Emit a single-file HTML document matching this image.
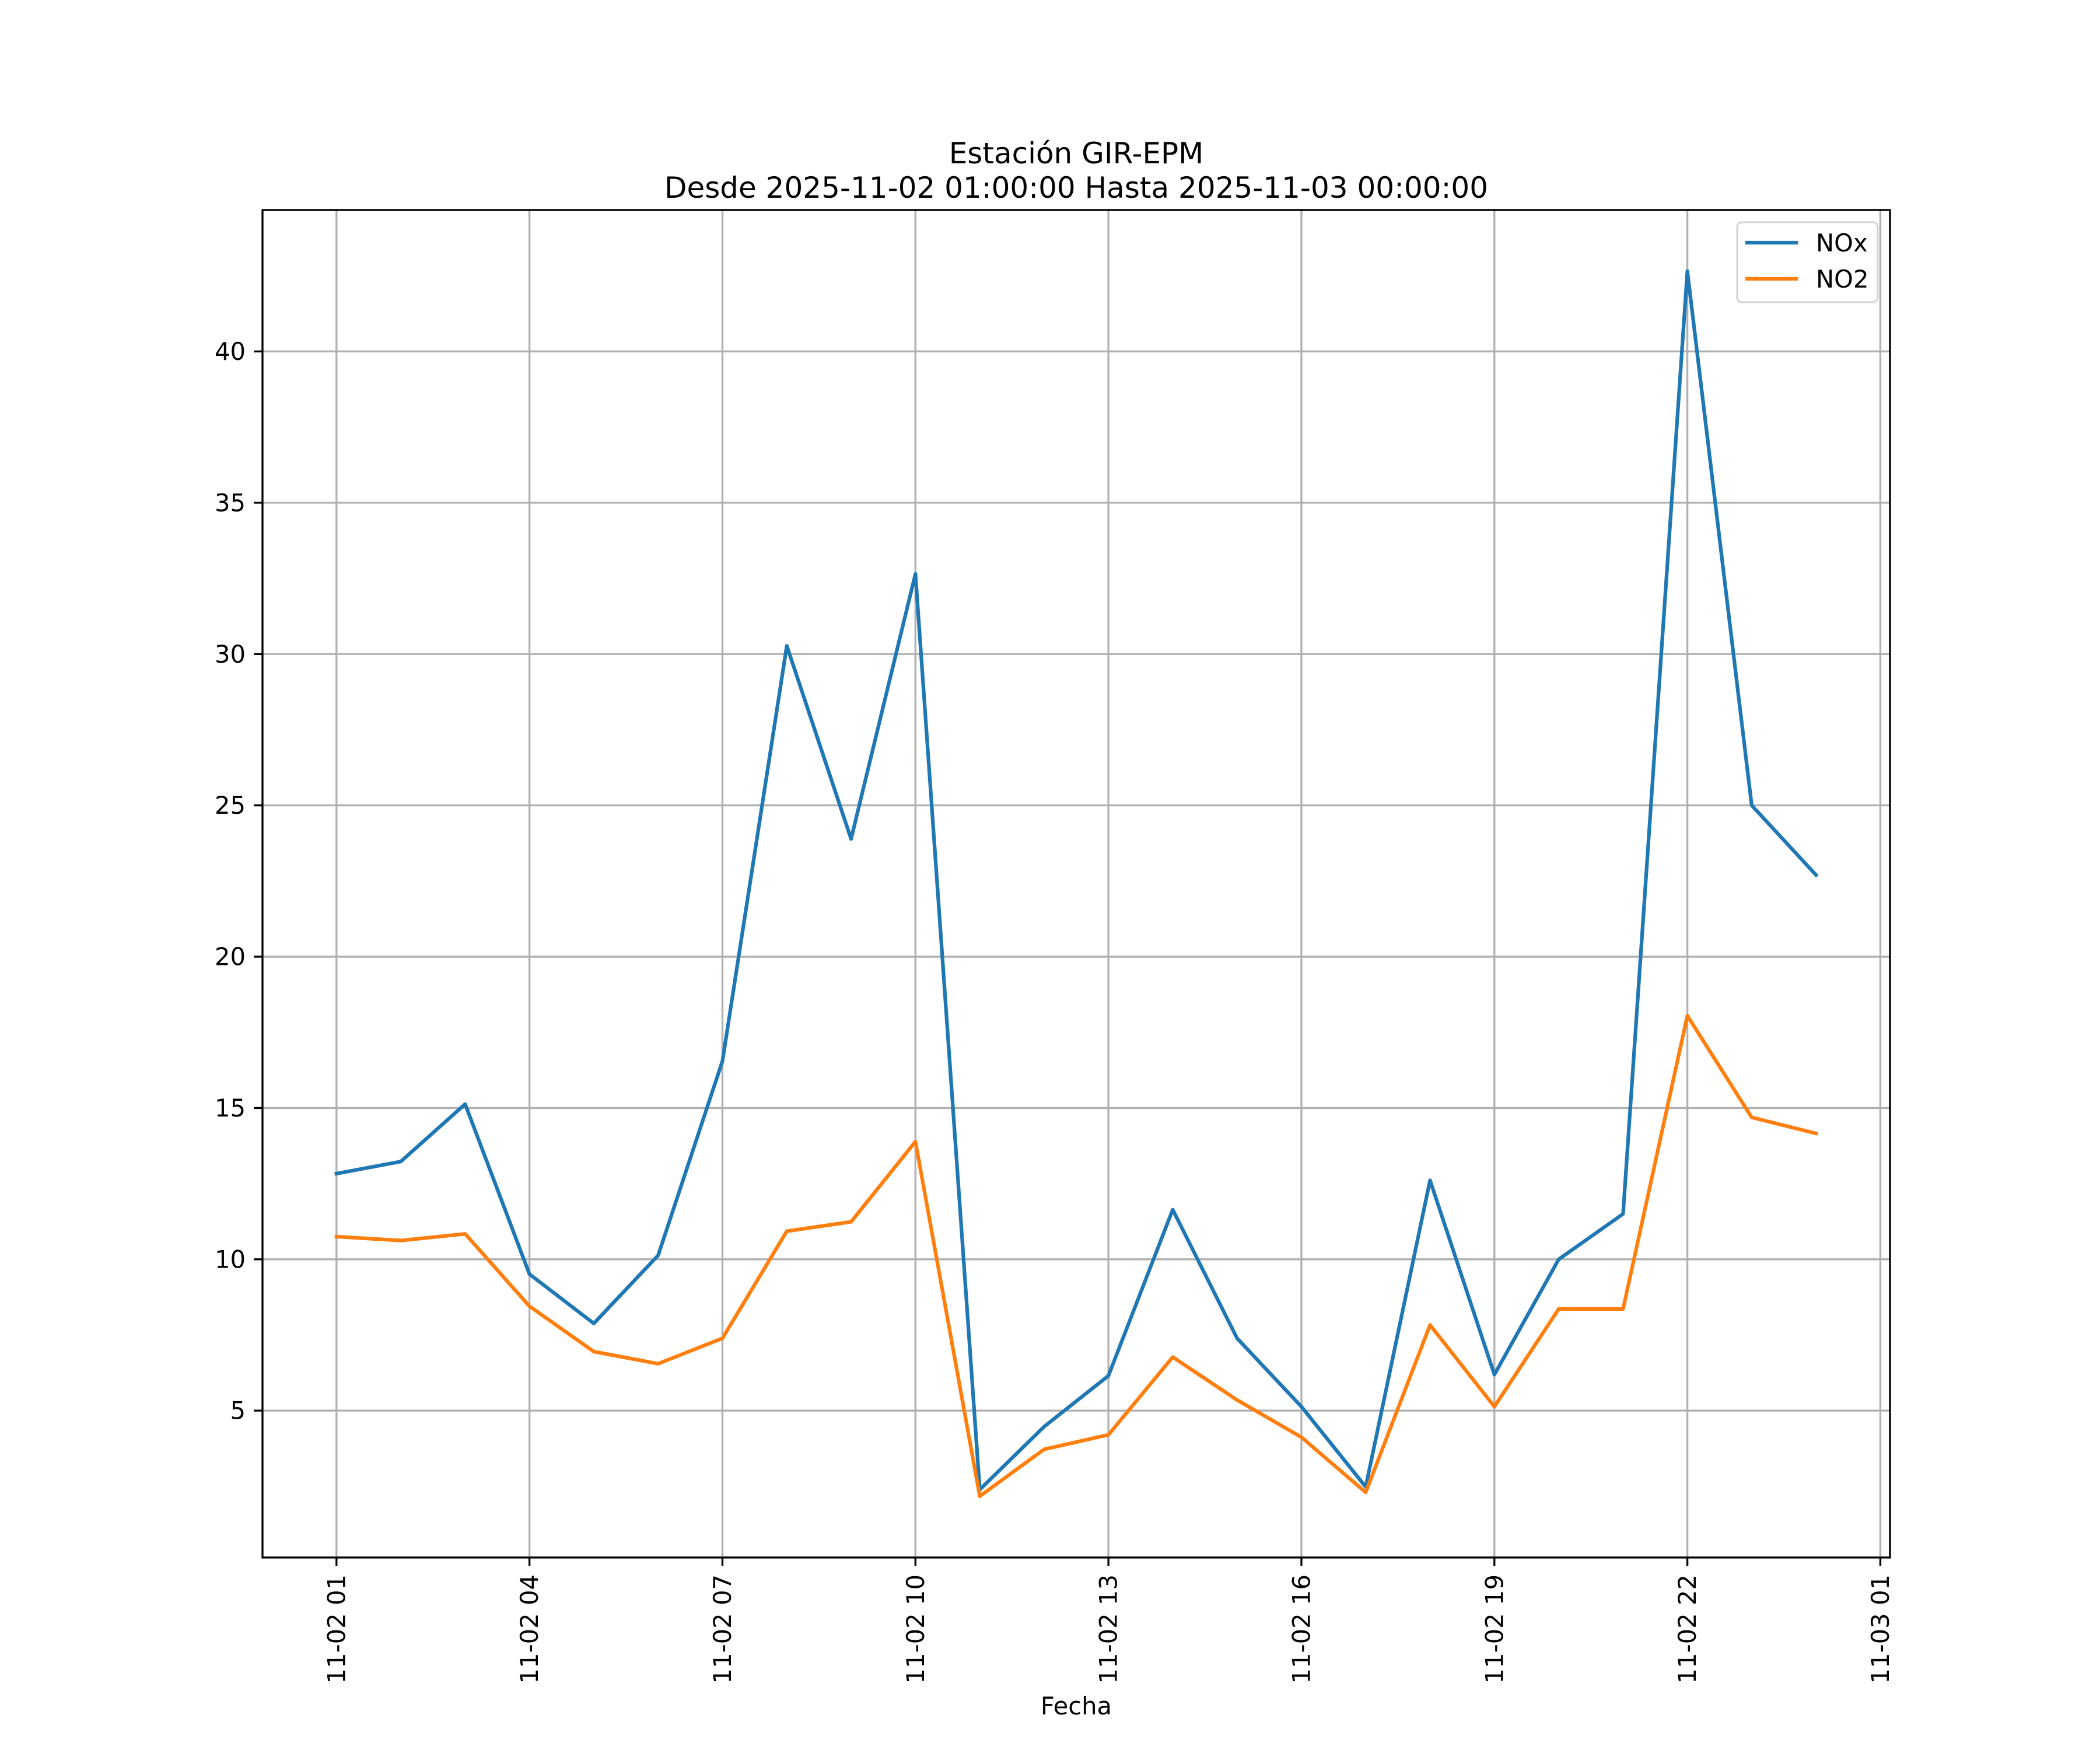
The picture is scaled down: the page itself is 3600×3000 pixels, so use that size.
<!DOCTYPE html>
<html><head><meta charset="utf-8"><style>
html,body{margin:0;padding:0;background:#fff}
svg{display:block}
text{font-family:"DejaVu Sans","Liberation Sans",sans-serif;fill:#000}
</style></head><body>
<svg id="chart" width="3600" height="3000" viewBox="0 0 3600 3000">
<rect width="3600" height="3000" fill="#fff"/>
<g id="grid"></g>
<g id="series"></g>
<rect x="450" y="360" width="2790" height="2310" fill="none" stroke="#000" stroke-width="3.33"/>
<g id="ticks"></g>
<text x="1845" y="280" font-size="50" text-anchor="middle">Estación GIR-EPM</text>
<text x="1845" y="339" font-size="50" text-anchor="middle">Desde 2025-11-02 01:00:00 Hasta 2025-11-03 00:00:00</text>
<text x="1845" y="2939" font-size="41.7" text-anchor="middle">Fecha</text>
<g>
<rect x="2978" y="381" width="241" height="137" rx="8" fill="#fff" fill-opacity="0.8" stroke="#d6d6d6" stroke-width="3.3"/>
<line x1="2992" y1="416" x2="3082" y2="416" stroke="#1f77b4" stroke-width="6.25"/>
<text x="3113" y="431" font-size="41.7">NOx</text>
<line x1="2992" y1="478" x2="3082" y2="478" stroke="#ff7f0e" stroke-width="6.25"/>
<text x="3113" y="493" font-size="41.7">NO2</text>
</g>
</svg>
<script>
const hours = [1,2,3,4,5,6,7,8,9,10,11,12,13,14,15,16,17,18,19,20,21,22,23,24];
const noxValues = [12.83,13.23,15.13,9.51,7.88,10.13,16.55,30.27,23.89,32.65,2.39,4.47,6.15,11.64,7.39,5.13,2.48,12.61,6.19,10.0,11.5,42.65,25.0,22.7];
const no2Values = [10.75,10.62,10.84,8.45,6.95,6.55,7.39,10.93,11.24,13.89,2.17,3.72,4.2,6.77,5.35,4.12,2.3,7.83,5.13,8.36,8.36,18.05,14.69,14.16];
const xTickHours = [1,4,7,10,13,16,19,22,25];
const xTickLabels = ["11-02 01","11-02 04","11-02 07","11-02 10","11-02 13","11-02 16","11-02 19","11-02 22","11-03 01"];
const yTicks = [5,10,15,20,25,30,35,40];

const NS="http://www.w3.org/2000/svg";
const L=450,R=3240,T=360,B=2670;
const all=noxValues.concat(no2Values);
const ymin0=Math.min(...all), ymax0=Math.max(...all), yr=ymax0-ymin0;
const ymin=ymin0-0.05*yr, ymax=ymax0+0.05*yr;
const xmin0=Math.min(...hours), xmax0=Math.max(...hours), xr=xmax0-xmin0;
const xmin=xmin0-0.05*xr, xmax=xmax0+0.05*xr;
const xs=h=>L+(h-xmin)/(xmax-xmin)*(R-L);
const ys=v=>B-(v-ymin)/(ymax-ymin)*(B-T);
function mk(tag,attrs,parent){const e=document.createElementNS(NS,tag);for(const k in attrs)e.setAttribute(k,attrs[k]);parent.appendChild(e);return e;}
const grid=document.getElementById('grid'),ticks=document.getElementById('ticks'),series=document.getElementById('series');
xTickHours.forEach((h,i)=>{
  const x=xs(h);
  const g=mk('line',{x1:x,x2:x,y1:T,y2:B,stroke:'#b0b0b0','stroke-width':3.33},grid);
  
  
  const t=mk('line',{x1:x,x2:x,y1:B,y2:B+14.6,stroke:'#000','stroke-width':3.33},ticks);
  
  
  const tx=mk('text',{x:x,y:B+29,'font-size':41.7,'text-anchor':'end','dominant-baseline':'central',transform:`rotate(-90 ${x} ${B+29})`},ticks);
  tx.textContent=xTickLabels[i];
  
  
});
yTicks.forEach(v=>{
  const y=ys(v);
  const g=mk('line',{x1:L,x2:R,y1:y,y2:y,stroke:'#b0b0b0','stroke-width':3.33},grid);
  
  
  const t=mk('line',{x1:L-14.6,x2:L,y1:y,y2:y,stroke:'#000','stroke-width':3.33},ticks);
  
  
  const tx=mk('text',{x:L-29,y:y,'font-size':41.7,'text-anchor':'end','dominant-baseline':'central'},ticks);
  tx.textContent=String(v);
  
  
});
function line(vals,color,name){
  const p=vals.map((v,i)=>xs(hours[i]).toFixed(1)+','+ys(v).toFixed(1)).join(' ');
  const e=mk('polyline',{points:p,fill:'none',stroke:color,'stroke-width':6.25,'stroke-linejoin':'round','stroke-linecap':'square'},series);
  
  
}
line(noxValues,'#1f77b4','nox-line');
line(no2Values,'#ff7f0e','no2-line');
</script>
</body></html>
